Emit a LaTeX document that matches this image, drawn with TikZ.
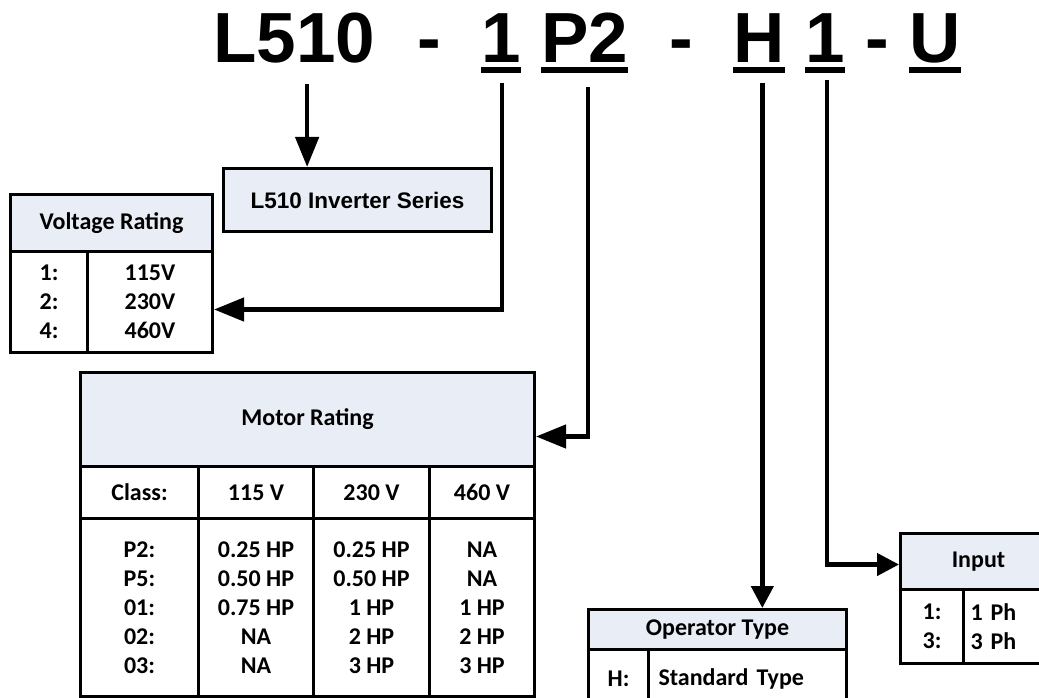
\documentclass[tikz,border=0pt]{standalone}
\usepackage{fontspec}
\usepackage{xcolor}
\usepackage{tikz}
\usetikzlibrary{arrows.meta, positioning}
\newfontfamily\arialfont{Liberation Sans}
\newfontfamily\tabfont{Carlito}
\definecolor{hdrblue}{RGB}{233,237,245}

\begin{document}
\begin{tikzpicture}[x=1pt, y=-1pt,
    code/.style={anchor=base west, inner sep=0, font=\arialfont\bfseries\fontsize{71}{80}\selectfont},
    uline/.style={line width=6pt},
    arr/.style={line width=4.5pt, -{Triangle[length=30pt, width=23pt]}},
    arrs/.style={line width=4.5pt, -{Triangle[length=22pt, width=22pt]}},
    hdr/.style={draw, line width=3pt, fill=hdrblue, inner sep=0, anchor=north west, font=\tabfont\bfseries\fontsize{24}{29}\selectfont},
    cell/.style={draw, line width=3pt, inner sep=0, anchor=north west, align=center, font=\tabfont\bfseries\fontsize{24}{29}\selectfont}]
                \useasboundingbox (0,0) rectangle (1039,698);
                \clip (0,0) rectangle (1039,698);

                \node[code] (code1) at (213, 63) {L510};
                \node[code] (dash1) at (417, 63) {-};
                \node[code] (code2) at (481, 63) {1};
                \node[code] (code3) at (541, 63) {P2};
                \node[code] (dash2) at (669, 63) {-};
                \node[code] (code4) at (733, 63) {H};
                \node[code] (code5) at (805, 63) {1};
                \node[code] (dash3) at (865, 63) {-};
                \node[code] (code6) at (909, 63) {U};

                \draw[uline] ([yshift=-6.5pt]code2.south west) -- ([yshift=-6.5pt]code2.south east);
                \draw[uline] ([yshift=-6.5pt]code3.south west) -- ([yshift=-6.5pt]code3.south east);
                \draw[uline] ([yshift=-6.5pt]code4.south west) -- ([yshift=-6.5pt]code4.south east);
                \draw[uline] ([yshift=-6.5pt]code5.south west) -- ([yshift=-6.5pt]code5.south east);
                \draw[uline] ([yshift=-6.5pt]code6.south west) -- ([yshift=-6.5pt]code6.south east);

                \node[hdr, minimum width=268, minimum height=63, font=\arialfont\bfseries\fontsize{22.5}{27}\selectfont] (series) at (222, 167) {L510 Inverter Series};

                \node[hdr, minimum width=202, minimum height=57] (volthead) at (9, 193) {Voltage Rating};
                \node[cell, minimum width=77, minimum height=101] (voltnum) at (9, 250) {1:\\2:\\4:};
                \node[cell, minimum width=125, minimum height=101] (voltval) at (86, 250) {115V\\230V\\460V};

                \node[hdr, minimum width=454, minimum height=94] (motorhead) at (79, 371) {Motor Rating};
                \node[cell, minimum width=118, minimum height=52] (class) at (79, 465) {Class:};
                \node[cell, minimum width=115, minimum height=52] (v115) at (197, 465) {115 V};
                \node[cell, minimum width=116, minimum height=52] (v230) at (312, 465) {230 V};
                \node[cell, minimum width=105, minimum height=52] (v460) at (428, 465) {460 V};
                \node[cell, minimum width=118, minimum height=178] (mclass) at (79, 517) {P2:\\P5:\\01:\\02:\\03:};
                \node[cell, minimum width=115, minimum height=178] (m115) at (197, 517) {0.25 HP\\0.50 HP\\0.75 HP\\NA\\NA};
                \node[cell, minimum width=116, minimum height=178] (m230) at (312, 517) {0.25 HP\\0.50 HP\\1 HP\\2 HP\\3 HP};
                \node[cell, minimum width=105, minimum height=178] (m460) at (428, 517) {NA\\NA\\1 HP\\2 HP\\3 HP};

                \node[hdr, minimum width=258, minimum height=40] (ophead) at (587, 608) {Operator Type};
                \node[cell, minimum width=60, minimum height=58] (opkey) at (587, 648) {H:};
                \node[cell, minimum width=198, minimum height=58, text width=178pt, align=left] (opval) at (647, 648) {Standard Type};

                \node[hdr, minimum width=156, minimum height=56] (inhead) at (899, 532) {Input};
                \node[cell, minimum width=63, minimum height=74] (inkey) at (899, 588) {1:\\3:};
                \node[cell, minimum width=93, minimum height=74, text width=79pt, align=left] (inval) at (962, 588) {1 Ph\\3 Ph};

                \coordinate (a1) at ([xshift=13pt, yshift=-20pt]code1.south);
                \coordinate (a2) at ([xshift=1pt, yshift=-20pt]code2.south);
                \coordinate (a3) at ([xshift=3.5pt, yshift=-24pt]code3.south);
                \coordinate (a4) at ([xshift=3.5pt, yshift=-20pt]code4.south);
                \coordinate (a5) at ([xshift=2pt, yshift=-17pt]code5.south);

                \draw[arr] (a1) -- (a1 |- series.north);
                \draw[arr] (a2) |- ([yshift=-7.5pt]voltval.east);
                \draw[arr] (a3) |- ([yshift=-17pt]motorhead.east);
                \draw[arrs] (a4) -- (a4 |- ophead.north);
                \draw[arrs] (a5) |- ([yshift=-3pt]inhead.west);
            \end{tikzpicture}
\end{document}
